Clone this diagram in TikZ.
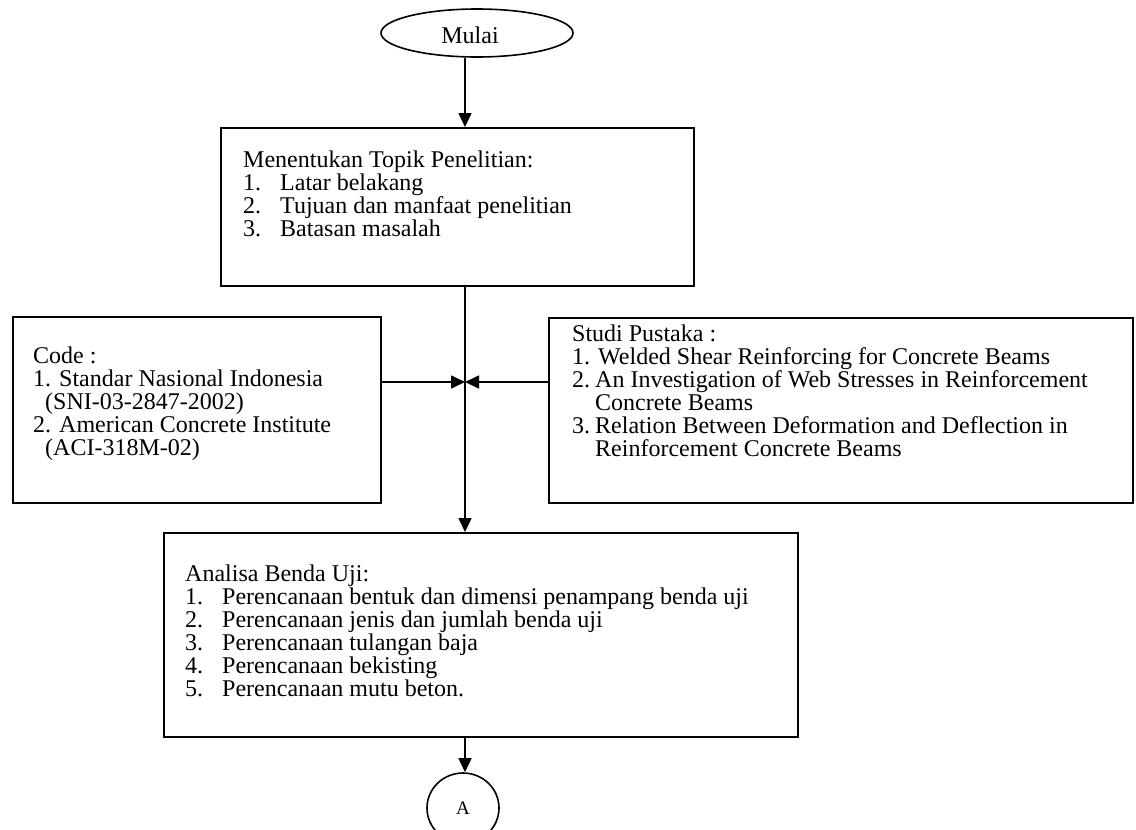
\documentclass[tikz,border=0pt]{standalone}
\usepackage{fontspec}
\setmainfont{Liberation Serif}
\usetikzlibrary{arrows.meta,shapes.geometric}
\newcommand{\bodyfont}{\fontsize{24}{23.3}\selectfont}
\tikzset{
  boxnode/.style={draw, line width=1.6pt, inner sep=0pt, anchor=north west},
  lbl/.style={font=\bodyfont, inner sep=0pt, anchor=base west},
  arr/.style={line width=1.6pt, -{Triangle[width=13pt,length=14pt]}},
  oval/.style={draw, line width=1.6pt, shape=ellipse, inner sep=0pt},
}
\begin{document}
\begin{tikzpicture}[x=1pt,y=-1pt]
\useasboundingbox (0,0) rectangle (1136,830);
\clip (0,0) rectangle (1136,830);
% start
\node[oval, minimum width=192pt, minimum height=48pt] (mulai) at (477,33) {};
\node[font=\bodyfont, inner sep=0pt, anchor=base] (mulaitxt) at (470,43) {Mulai};
% boxes
\node[boxnode, minimum width=473pt, minimum height=158pt] (b1) at (220,127) {};
\node[boxnode, minimum width=368pt, minimum height=186pt] (code) at (12,316) {};
\node[boxnode, minimum width=584pt, minimum height=185pt] (studi) at (548,317) {};
\node[boxnode, minimum width=634pt, minimum height=204pt] (b3) at (163,532) {};
\node[oval, minimum width=72pt, minimum height=70pt, font=\fontsize{19}{20}\selectfont] (A) at (463,808) {A};
\coordinate (j) at (465,382);
% connectors
\draw[arr] (j |- mulai.south) -- (j |- b1.north);
\draw[arr] (j |- b1.south) -- (j |- b3.north);
\draw[arr] (code.east |- j) -- (j);
\draw[arr] (studi.west |- j) -- (j);
\draw[arr] (j |- b3.south) -- (j |- A.north);
% box 1 text
\node[lbl] (t10) at (243,167) {Menentukan Topik Penelitian:};
\node[lbl] (t11n) at (243,190) {1.};
\node[lbl] (t11) at (280,190) {Latar belakang};
\node[lbl] (t12n) at (243,213) {2.};
\node[lbl] (t12) at (280,213) {Tujuan dan manfaat penelitian};
\node[lbl] (t13n) at (243,236) {3.};
\node[lbl] (t13) at (280,236) {Batasan masalah};
% code text
\node[lbl] (c0) at (33,363) {Code :};
\node[lbl] (c1) at (33,386) {1. Standar Nasional Indonesia};
\node[lbl] (c2) at (45,409) {(SNI-03-2847-2002)};
\node[lbl] (c3) at (33,432) {2. American Concrete Institute};
\node[lbl] (c4) at (45,455) {(ACI-318M-02)};
% studi text
\node[lbl] (s0) at (572,341) {Studi Pustaka :};
\node[lbl] (s1) at (572,364) {1. Welded Shear Reinforcing for Concrete Beams};
\node[lbl] (s2n) at (572,387) {2.};
\node[lbl] (s2) at (595,387) {An Investigation of Web Stresses in Reinforcement};
\node[lbl] (s2b) at (595,410) {Concrete Beams};
\node[lbl] (s3n) at (572,433) {3.};
\node[lbl] (s3) at (595,433) {Relation Between Deformation and Deflection in};
\node[lbl] (s3b) at (595,456) {Reinforcement Concrete Beams};
% box 3 text
\node[lbl] (a0) at (185,581) {Analisa Benda Uji:};
\node[lbl] (a1n) at (185,604) {1.};
\node[lbl] (a1) at (222,604) {Perencanaan bentuk dan dimensi penampang benda uji};
\node[lbl] (a2n) at (185,627) {2.};
\node[lbl] (a2) at (222,627) {Perencanaan jenis dan jumlah benda uji};
\node[lbl] (a3n) at (185,650) {3.};
\node[lbl] (a3) at (222,650) {Perencanaan tulangan baja};
\node[lbl] (a4n) at (185,673) {4.};
\node[lbl] (a4) at (222,673) {Perencanaan bekisting};
\node[lbl] (a5n) at (185,696) {5.};
\node[lbl] (a5) at (222,696) {Perencanaan mutu beton.};
\end{tikzpicture}
\end{document}
